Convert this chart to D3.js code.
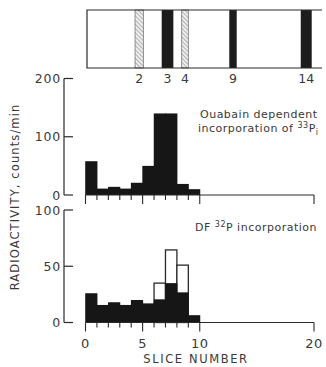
<!DOCTYPE html>
<html><head><meta charset="utf-8">
<script src="https://cdn.jsdelivr.net/npm/d3@7"></script>
<style>html,body{margin:0;padding:0;background:#fff;}svg{display:block;}</style>
</head><body>
<script>
// ---- data ----
const slices = [0,1,2,3,4,5,6,7,8,9];
const ouabainValues = [58, 11, 14, 11, 21, 50, 140, 140, 19, 10];
const dfSolidValues = [26, 15.6, 18, 15.6, 20, 17, 20.6, 35, 26.8, 6.5];
const dfOpenSlices = [6, 7, 8];
const dfOpenValues = [35, 64.5, 51];
const upperTicks = [0, 100, 200];
const lowerTicks = [0, 50, 100];
const xTickLabels = [0, 5, 10, 20];
const bandLabels = ["2","3","4","9","14"];
const bandCenters = [4.70, 7.18, 8.71, 12.91, 19.32];
const bandWidths = [0.73, 1.02, 0.58, 0.65, 0.96];
const bandTypes = ["hatched","solid","hatched","solid","solid"];

const W = 326, H = 367;
const ink = "#2a2a2a", textInk = "#3a3a3a";
const font = "DejaVu Sans, sans-serif";

const svg = d3.select("body").append("svg").attr("width", W).attr("height", H);
const defs = svg.append("defs");
const pat = defs.append("pattern").attr("id","hatch").attr("patternUnits","userSpaceOnUse")
  .attr("width",3).attr("height",3).attr("patternTransform","rotate(-45)");
pat.append("rect").attr("width",3).attr("height",3).attr("fill","#eee");
pat.append("line").attr("x1",0).attr("y1",0).attr("x2",0).attr("y2",3).attr("stroke","#888").attr("stroke-width",1.2);

const x = d3.scaleLinear().domain([0,20]).range([85.5, 314]);
const yU = d3.scaleLinear().domain([0,200]).range([195, 78.5]);
const yL = d3.scaleLinear().domain([0,100]).range([322.5, 210]);
const axisX = 64;

// ---- top gel strip ----
const boxTop = 10, boxBot = 68, boxL = x(0) + 1.5, boxR = 322;
const g0 = svg.append("g");
g0.selectAll("rect.band").data(bandCenters).join("rect").attr("class","band")
  .attr("x", (d,i) => x(d - bandWidths[i]/2))
  .attr("width", (d,i) => x(bandWidths[i]) - x(0))
  .attr("y", boxTop).attr("height", boxBot - boxTop)
  .attr("fill", (d,i) => bandTypes[i] === "solid" ? "#1c1c1c" : "url(#hatch)")
  .attr("stroke", (d,i) => bandTypes[i] === "solid" ? "none" : "#777")
  .attr("stroke-width", 0.8);
g0.append("path").attr("d", `M${boxR},${boxTop}H${boxL}V${boxBot}H${boxR}`)
  .attr("fill","none").attr("stroke",ink).attr("stroke-width",1.2);
g0.selectAll("text.bl").data(bandLabels).join("text").attr("class","bl")
  .attr("x", (d,i) => x(bandCenters[i])).attr("y", 82.5)
  .attr("text-anchor","middle").attr("font-family",font).attr("font-size",12.5)
  .attr("fill",textInk).text(d => d);

// ---- panel helper ----
function panel(y, ticks) {
  const g = svg.append("g");
  g.append("line").attr("x1",axisX).attr("x2",axisX).attr("y1",y(ticks[ticks.length-1])).attr("y2",y(0))
    .attr("stroke",ink).attr("stroke-width",1.2);
  g.selectAll("line.yt").data(ticks).join("line").attr("class","yt")
    .attr("x1",axisX).attr("x2",axisX+9).attr("y1",d=>y(d)).attr("y2",d=>y(d))
    .attr("stroke",ink).attr("stroke-width",1.2);
  g.selectAll("text.yl").data(ticks).join("text").attr("class","yl")
    .attr("x",axisX-3).attr("y",d=>y(d)+4.5).attr("text-anchor","end")
    .attr("font-family",font).attr("font-size",12.5).attr("letter-spacing",0.8)
    .attr("fill",textInk).text(d=>d);
  return g;
}
function xAxis(g, y0) {
  g.append("line").attr("x1",x(0)).attr("x2",x(20)).attr("y1",y0).attr("y2",y0)
    .attr("stroke",ink).attr("stroke-width",1.2);
  const tk = d3.range(0,11).concat([20]);
  g.selectAll("line.xt").data(tk).join("line").attr("class","xt")
    .attr("x1",d=>x(d)).attr("x2",d=>x(d)).attr("y1",y0)
    .attr("y2",d=> (d%5===0) ? y0+9 : y0+5)
    .attr("stroke",ink).attr("stroke-width",1.1);
}

// ---- upper panel ----
const gU = panel(yU, upperTicks);
gU.selectAll("rect.bar").data(ouabainValues).join("rect").attr("class","bar")
  .attr("x",(d,i)=>x(slices[i]) - 0.3).attr("width",x(1)-x(0)+0.8)
  .attr("y",d=>yU(d)).attr("height",d=>yU(0)-yU(d)).attr("fill","#161616");
xAxis(gU, yU(0));
const tU = gU.append("text").attr("font-family",font).attr("font-size",11).attr("letter-spacing",0.5).attr("fill",textInk);
tU.append("tspan").attr("x",200).attr("y",118).text("Ouabain dependent");
const t2 = gU.append("text").attr("font-family",font).attr("font-size",11).attr("letter-spacing",0.5).attr("fill",textInk)
  .attr("x",198).attr("y",132);
t2.append("tspan").text("incorporation of ");
t2.append("tspan").attr("font-size",8).attr("dy",-4).text("33");
t2.append("tspan").attr("font-size",11).attr("dy",4).text("P");
t2.append("tspan").attr("font-size",8).attr("dy",3).text("i");

// ---- lower panel ----
const gL = panel(yL, lowerTicks);
gL.selectAll("rect.open").data(dfOpenValues).join("rect").attr("class","open")
  .attr("x",(d,i)=>x(dfOpenSlices[i])).attr("width",x(1)-x(0))
  .attr("y",d=>yL(d)).attr("height",d=>yL(0)-yL(d))
  .attr("fill","#fff").attr("stroke",ink).attr("stroke-width",1.3);
gL.selectAll("rect.bar").data(dfSolidValues).join("rect").attr("class","bar")
  .attr("x",(d,i)=>x(slices[i]) - 0.3).attr("width",x(1)-x(0)+0.8)
  .attr("y",d=>yL(d)).attr("height",d=>yL(0)-yL(d)).attr("fill","#161616");
xAxis(gL, yL(0));
const t3 = gL.append("text").attr("font-family",font).attr("font-size",11).attr("letter-spacing",0.5).attr("fill",textInk)
  .attr("x",195).attr("y",231);
t3.append("tspan").text("DF ");
t3.append("tspan").attr("font-size",8).attr("dy",-4).text("32");
t3.append("tspan").attr("font-size",11).attr("dy",4).text("P incorporation");

gL.selectAll("text.xl").data(xTickLabels).join("text").attr("class","xl")
  .attr("x",d=>x(d)).attr("y",348).attr("text-anchor","middle")
  .attr("font-family",font).attr("font-size",13).attr("letter-spacing",0.5)
  .attr("fill",textInk).text(d=>d);
svg.append("text").attr("x",196).attr("y",362.5).attr("text-anchor","middle")
  .attr("font-family",font).attr("font-size",11.5).attr("letter-spacing",1.6)
  .attr("fill",textInk).text("SLICE NUMBER");
svg.append("text").attr("transform","translate(19,197) rotate(-90)").attr("text-anchor","middle")
  .attr("font-family",font).attr("font-size",11.5).attr("letter-spacing",1.1)
  .attr("fill",textInk).text("RADIOACTIVITY, counts/min");
</script>
</body></html>
